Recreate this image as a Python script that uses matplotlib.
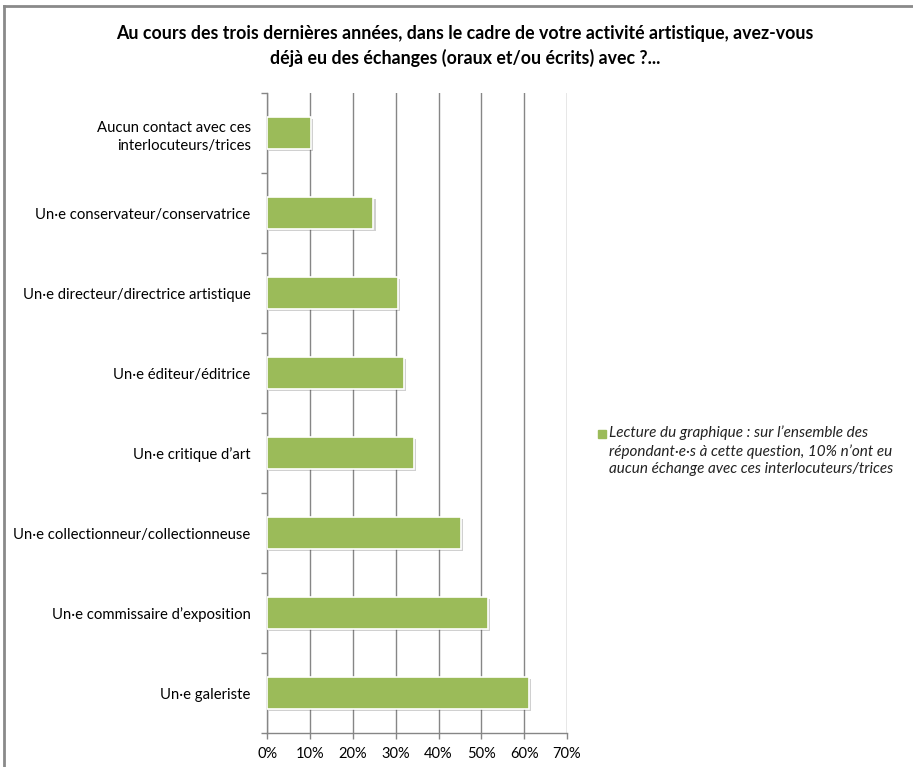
import matplotlib
matplotlib.use('Agg')
import matplotlib.pyplot as plt
import matplotlib.patheffects as pe
from matplotlib.ticker import FixedLocator, PercentFormatter
from matplotlib.lines import Line2D

# --- Données ---
categories = [
    'Un·e galeriste',
    'Un·e commissaire d’exposition',
    'Un·e collectionneur/collectionneuse',
    'Un·e critique d’art',
    'Un·e éditeur/éditrice',
    'Un·e directeur/directrice artistique',
    'Un·e conservateur/conservatrice',
    'Aucun contact avec ces\ninterlocuteurs/trices',
]
valeurs = [61.1, 51.6, 45.2, 34.3, 32.0, 30.6, 24.8, 10.2]
ticksX = [0, 10, 20, 30, 40, 50, 60, 70]

titre = ('Au cours des trois dernières années, dans le cadre de votre activité artistique, avez-vous\n'
         'déjà eu des échanges (oraux et/ou écrits) avec ?...')
legende = ('Lecture du graphique : sur l’ensemble des\n'
           'répondant·e·s à cette question, 10% n’ont eu\n'
           'aucun échange avec ces interlocuteurs/trices')

# --- Style ---
plt.rcParams['font.family'] = ['Lato', 'DejaVu Sans']
vert = '#9BBB59'
gris = '#868686'

fig = plt.figure(figsize=(9.13, 7.67), dpi=100)
ax = fig.add_axes([0.2928, 0.0443, 0.3282, 0.8344])

posY = list(range(len(categories)))
barres = ax.barh(posY, valeurs, height=0.4, color=vert, edgecolor='white',
                 linewidth=1.2, zorder=3, label=legende)
for b in barres:
    b.set_path_effects([pe.SimplePatchShadow(offset=(1.5, -1.5), alpha=0.25, shadow_rgbFace='#444444'),
                        pe.Normal()])

ax.set_xlim(0, 70)
ax.set_ylim(-0.5, len(categories) - 0.5)
ax.xaxis.set_major_locator(FixedLocator(ticksX))
ax.xaxis.set_major_formatter(PercentFormatter(decimals=0))
ax.grid(axis='x', color=gris, linewidth=1, zorder=0)

# ticks de catégorie aux limites, étiquettes au centre
ax.yaxis.set_major_locator(FixedLocator([i - 0.5 for i in range(len(categories) + 1)]))
ax.yaxis.set_major_formatter(plt.NullFormatter())
ax.yaxis.set_minor_locator(FixedLocator(posY))
ax.set_yticklabels(categories, minor=True, fontsize=10.7, linespacing=1.45)
ax.tick_params(axis='y', which='major', length=4, color=gris, width=1)
ax.tick_params(axis='y', which='minor', length=0, pad=12)
ax.tick_params(axis='x', length=4, color=gris, width=1, labelsize=10.5, pad=6)

for s in ['top', 'right']:
    ax.spines[s].set_visible(False)
for s in ['left', 'bottom']:
    ax.spines[s].set_color(gris)
    ax.spines[s].set_linewidth(1)

fig.text(0.509, 0.940, titre, ha='center', va='center', fontsize=12.8,
         fontweight='bold', linespacing=1.4)

# légende : carré vert + texte italique
fig.add_artist(Line2D([0.6595], [1 - 434 / 767], transform=fig.transFigure, marker='s',
                      color=vert, markersize=6, linestyle='None'))
fig.text(0.667, 1 - 425 / 767, legende, ha='left', va='top', fontsize=11,
         style='italic', linespacing=1.35, color='#222222')

# cadre gris (gauche et haut)
fig.add_artist(Line2D([0.0045, 0.0045], [0, 0.992], transform=fig.transFigure,
                      color='#8a8a8a', linewidth=2))
fig.add_artist(Line2D([0.0045, 1], [0.992, 0.992], transform=fig.transFigure,
                      color='#8a8a8a', linewidth=2))

plt.savefig('out.png', dpi=100)
